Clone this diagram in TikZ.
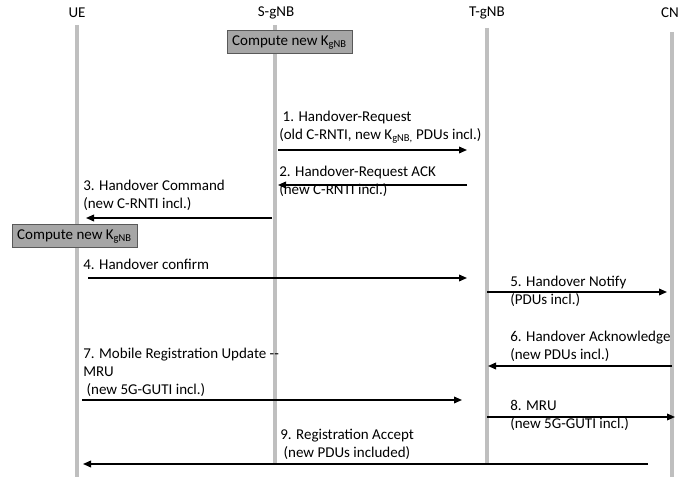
\documentclass[tikz,border=0pt]{standalone}
\usepackage{fontspec}
\setmainfont{Carlito}
\usetikzlibrary{arrows.meta}

\tikzset{
  lifeline/.style={draw={rgb, 255:red, 191; green, 191; blue, 191}, line width=2.3pt},
  msg/.style={line width=1.1pt, -{Triangle[length=6pt,width=5pt]}},
  msgtext/.style={anchor=north west, inner sep=0pt, align=left, font=\fontsize{11.25}{13.5}\selectfont},
  actor/.style={inner sep=0.75pt, font=\fontsize{11.25}{13.5}\selectfont},
  keybox/.style={draw={rgb, 255:red, 89; green, 89; blue, 89}, fill={rgb, 255:red, 166; green, 166; blue, 166}, line width=0.75pt, minimum width=93.75pt, minimum height=17.25pt, inner sep=0pt, font=\fontsize{11.25}{13.5}\selectfont}
}

\begin{document}
\begin{tikzpicture}[x=0.75pt,y=0.75pt,yscale=-1,xscale=1]
\useasboundingbox (0,0) rectangle (697,477);

%Lifelines
\coordinate (ueTop) at (77,25);
\coordinate (ueBot) at (77,477);
\coordinate (sgnbTop) at (275,25);
\coordinate (sgnbBot) at (275,463);
\coordinate (tgnbTop) at (487,28);
\coordinate (tgnbBot) at (487,463);
\coordinate (cnTop) at (672,32);
\coordinate (cnBot) at (672,477);
\draw [lifeline] (ueTop) -- (ueBot) ;
\draw [lifeline] (sgnbTop) -- (sgnbBot) ;
\draw [lifeline] (tgnbTop) -- (tgnbBot) ;
\draw [lifeline] (cnTop) -- (cnBot) ;

% Text Node
\node [actor] (ue) at (77,13) {UE};
% Text Node
\node [actor] (sgnb) at (276,13) {S-gNB};
% Text Node
\node [actor] (tgnb) at (487,13) {T-gNB};
% Text Node
\node [actor] (cn) at (670,13) {CN};

%Shape: Rectangle
\node [keybox] (keyS) at (289.5,42.5) {Compute new K\textsubscript{gNB}};
%Shape: Rectangle
\node [keybox] (keyUE) at (74.5,236.5) {Compute new K\textsubscript{gNB}};

%Straight Lines
\coordinate (m1a) at (278,150);
\coordinate (m1b) at (467,150);
\draw [msg] (m1a) -- (m1b) ;
%Straight Lines
\coordinate (m2a) at (467,185);
\coordinate (m2b) at (278,185);
\draw [msg] (m2a) -- (m2b) ;
%Straight Lines
\coordinate (m3a) at (272,218);
\coordinate (m3b) at (86,218);
\draw [msg] (m3a) -- (m3b) ;
%Straight Lines
\coordinate (m4a) at (88,278);
\coordinate (m4b) at (467,278);
\draw [msg] (m4a) -- (m4b) ;
%Straight Lines
\coordinate (m5a) at (487,292);
\coordinate (m5b) at (667,292);
\draw [msg] (m5a) -- (m5b) ;
%Straight Lines
\coordinate (m6a) at (672,366);
\coordinate (m6b) at (488,366);
\draw [msg] (m6a) -- (m6b) ;
%Straight Lines
\coordinate (m7a) at (82,400);
\coordinate (m7b) at (462,400);
\draw [msg] (m7a) -- (m7b) ;
%Straight Lines
\coordinate (m8a) at (487,417);
\coordinate (m8b) at (675,417);
\draw [msg] (m8a) -- (m8b) ;
%Straight Lines
\coordinate (m9a) at (648,464);
\coordinate (m9b) at (83,464);
\draw [msg] (m9a) -- (m9b) ;

% Text Node
\node [msgtext] (t1) at (279,111) {\ 1. Handover-Request\\(old C-RNTI, new K\textsubscript{gNB,} PDUs incl.)};
% Text Node
\node [msgtext] (t2) at (279,166) {2. Handover-Request ACK\\(new C-RNTI incl.)};
% Text Node
\node [msgtext] (t3) at (83,180) {3. Handover Command\\(new C-RNTI incl.)};
% Text Node
\node [msgtext] (t4) at (83,259) {4. Handover confirm};
% Text Node
\node [msgtext] (t5) at (510,276) {5. Handover Notify\\(PDUs incl.)};
% Text Node
\node [msgtext] (t6) at (510,331) {6. Handover Acknowledge\\(new PDUs incl.)};
% Text Node
\node [msgtext] (t7) at (83,348) {7. Mobile Registration Update -{}-\\MRU\\\ (new 5G-GUTI incl.)};
% Text Node
\node [msgtext] (t8) at (510,400) {8. MRU\\(new 5G-GUTI incl.)};
% Text Node
\node [msgtext] (t9) at (280,429) {9. Registration Accept\\\ (new PDUs included)};

\end{tikzpicture}
\end{document}
